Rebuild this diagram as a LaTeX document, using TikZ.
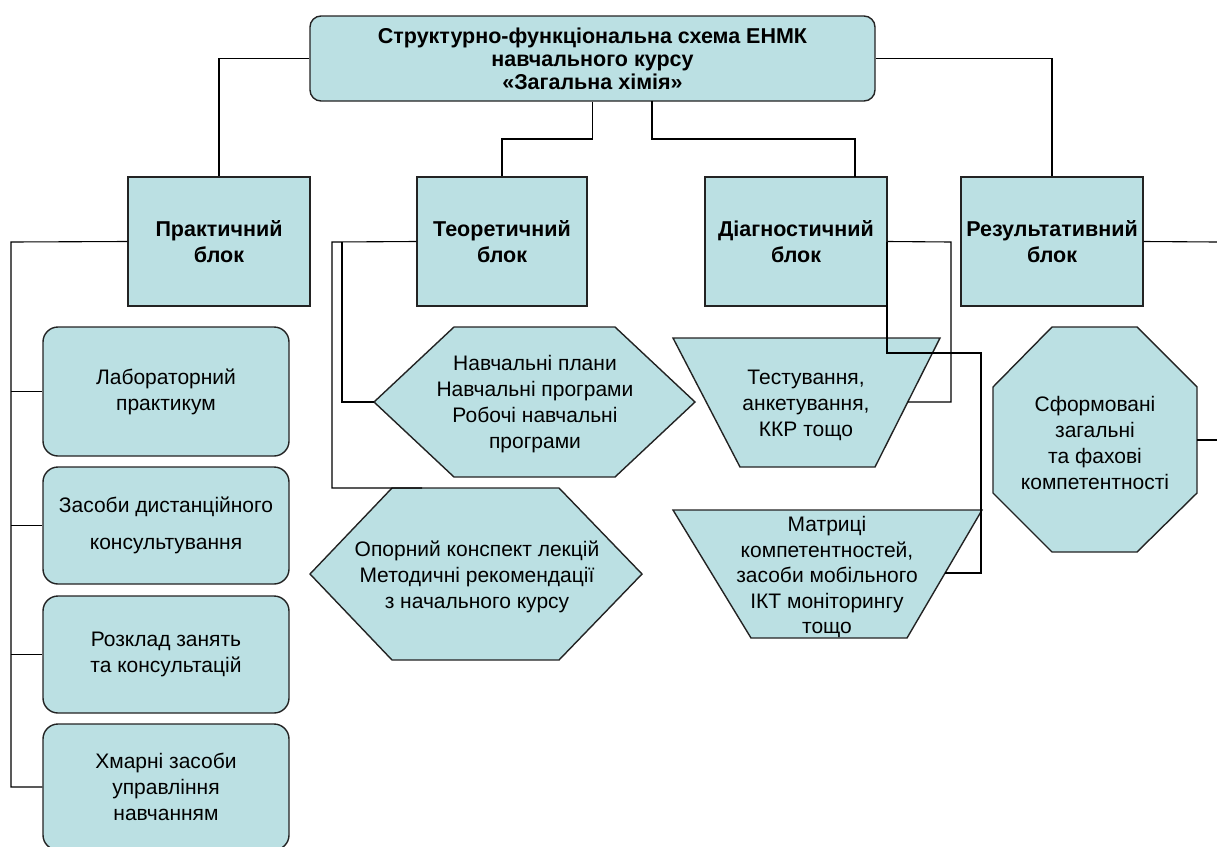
\documentclass[tikz,border=0pt]{standalone}
\usepackage{fontspec}
\setmainfont{Liberation Sans}
\usetikzlibrary{calc}
\definecolor{boxfill}{RGB}{187,224,227}
\definecolor{edgecol}{RGB}{35,35,35}
\tikzset{
  blk/.style={draw=edgecol, fill=boxfill, line width=1.4pt},
  rbox/.style={blk, rounded corners=15pt, minimum width=246pt, align=center,
               font=\fontsize{21}{26}\selectfont, inner sep=0pt},
  hbox/.style={blk, minimum height=129pt, align=center,
               font=\bfseries\fontsize{21.5}{26}\selectfont, inner sep=0pt},
  conn/.style={draw=black, line width=1.1pt},
  lbl/.style={align=center, font=\fontsize{21}{26}\selectfont, inner sep=0pt},
}
\begin{document}
\begin{tikzpicture}[x=1pt,y=-1pt]
\useasboundingbox (0,0) rectangle (1217,846);

% title
\node[blk, rounded corners=11pt, minimum width=565pt, minimum height=85pt,
      align=center, font=\bfseries\fontsize{21.5}{23}\selectfont, inner sep=0pt]
  (top) at (592.5,58.5) {Структурно-функціональна схема ЕНМК\\навчального курсу\\«Загальна хімія»};

% second row
\node[hbox, minimum width=182pt] (prac) at (219,241.5) {Практичний\\блок};
\node[hbox, minimum width=170pt] (theo) at (502,241.5) {Теоретичний\\блок};
\node[hbox, minimum width=182pt] (diag) at (796,241.5) {Діагностичний\\блок};
\node[hbox, minimum width=182pt] (res) at (1052,241.5) {Результативний\\блок};

% practical items
\node[rbox, minimum height=129pt] (lab) at (166,391.5) {Лабораторний\\практикум};
\node[rbox, minimum height=117pt] (dist) at (166,525.5) {Засоби дистанційного\\[11pt]консультування};
\node[rbox, minimum height=117pt] (sched) at (166,654.5) {Розклад занять\\та консультацій};
\node[rbox, minimum height=126pt] (cloud) at (166,787) {Хмарні засоби\\управління\\навчанням};

% theoretical hexagons
\path[blk] (374,402) coordinate (hexAw) -- (454,327) -- (615,327) -- (695,402)
   -- (615,477) -- (454,477) -- cycle;
\node[lbl] (hexA) at (535,404) {Навчальні плани\\Навчальні програми\\Робочі навчальні\\програми};
\path[blk] (310,574) -- (392,488) coordinate (hexBn) -- (559,488) -- (642,574)
   -- (559,660) -- (392,660) -- cycle;
\node[lbl] (hexB) at (477,577) {Опорний конспект лекцій\\Методичні рекомендації\\з начального курсу};

% diagnostic trapezoids
\path[blk] (673,338) coordinate (trAtl) -- (940,338) coordinate (trAtr)
   -- (875,467) coordinate (trAbr) -- (740,467) -- cycle;
\node[lbl] (trA) at (806,405) {Тестування,\\анкетування,\\ККР тощо};
\path[blk] (673,510) -- (982,510) coordinate (trBtr)
   -- (907,638) coordinate (trBbr) -- (751,638) -- cycle;
\node[lbl, font=\fontsize{21}{25.5}\selectfont] (trB) at (827,577) {Матриці\\компетентностей,\\засоби мобільного\\ІКТ моніторингу\\тощо};

% result octagon
\path[blk] (993,387) -- (1052,327) -- (1137,327) -- (1197,387)
   -- (1197,493) -- (1137,552) -- (1052,552) -- (993,493) -- cycle;
\node[lbl] (oct) at (1095,443) {Сформовані\\загальні\\та фахові\\компетентності};

% coordinates for connector ends
\coordinate (topS2) at (652,101);
\coordinate (diagN) at (855,177);
\coordinate (trAe) at ($(trAtr)!0.496!(trAbr)$);
\coordinate (trBe) at ($(trBtr)!0.492!(trBbr)$);
\coordinate (hexBtop) at (422,488);
\coordinate (octE) at (1197,440);
\coordinate (rEdge1) at (1217,242);
\coordinate (rEdge2) at (1217,440);

% connectors from title
\draw[conn] (top.west) -| (prac.north);
\draw[conn] (top.east) -| (res.north);
\draw[conn] (top.south) |- (502,139) -- (theo.north);
\draw[conn] (topS2) |- (855,139) -- (diagN);

% practical bus
\draw[conn] (prac.west) -- (11,242) |- (cloud.west);
\draw[conn] (11,391.5) -- (lab.west);
\draw[conn] (11,525.5) -- (dist.west);
\draw[conn] (11,654.5) -- (sched.west);

% theoretical
\draw[conn] (theo.west) -- (332,242) |- (hexBtop);
\draw[conn] (342,242) |- (hexAw);

% diagnostic
\draw[conn] (diag.east) -- (951,242) |- (trAe);
\draw[conn] (887,242) |- (981,353) |- (trBe);

% result
\draw[conn] (res.east) -- (rEdge1);
\draw[conn] (octE) -- (rEdge2);
\end{tikzpicture}
\end{document}
